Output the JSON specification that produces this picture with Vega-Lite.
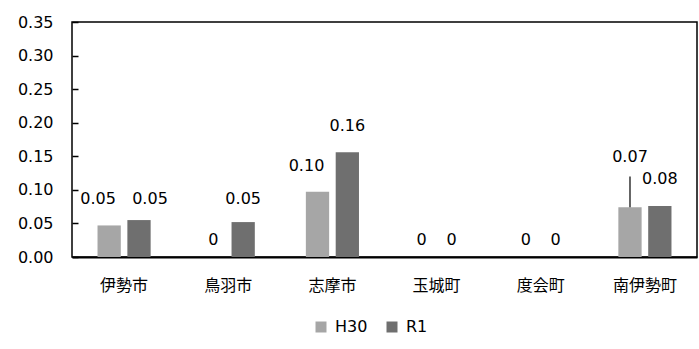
{
  "$schema": "https://vega.github.io/schema/vega-lite/v6.json",
  "width": 625,
  "height": 235,
  "autosize": {"type": "none"},
  "padding": {"left": 72, "top": 22, "right": 2, "bottom": 92},
  "background": "white",
  "config": {
    "font": "DejaVu Sans, Noto Sans CJK JP",
    "view": {"stroke": "#000", "strokeWidth": 1.5},
    "axis": {"labelColor": "#000", "labelFontSize": 16, "domainColor": "#000", "domainWidth": 2, "tickColor": "#000", "grid": false, "title": null},
    "axisY": {"format": ".2f", "labelOverlap": false, "ticks": true, "domain": false, "offset": -6, "tickSize": 6, "tickWidth": 1.5, "labelPadding": 19, "tickCount": 7, "zindex": 1}
  },
  "data": {
    "values": [
      {"muni": "伊勢市", "year": "H30", "value": 0.047, "shown": 0.05},
      {"muni": "伊勢市", "year": "R1", "value": 0.055, "shown": 0.05},
      {"muni": "鳥羽市", "year": "H30", "value": 0, "shown": 0},
      {"muni": "鳥羽市", "year": "R1", "value": 0.052, "shown": 0.05},
      {"muni": "志摩市", "year": "H30", "value": 0.097, "shown": 0.10},
      {"muni": "志摩市", "year": "R1", "value": 0.156, "shown": 0.16},
      {"muni": "玉城町", "year": "H30", "value": 0, "shown": 0},
      {"muni": "玉城町", "year": "R1", "value": 0, "shown": 0},
      {"muni": "度会町", "year": "H30", "value": 0, "shown": 0},
      {"muni": "度会町", "year": "R1", "value": 0, "shown": 0},
      {"muni": "南伊勢町", "year": "H30", "value": 0.074, "shown": 0.07},
      {"muni": "南伊勢町", "year": "R1", "value": 0.076, "shown": 0.08}
    ]
  },
  "encoding": {
    "x": {
      "field": "muni", "type": "nominal",
      "sort": ["伊勢市", "鳥羽市", "志摩市", "玉城町", "度会町", "南伊勢町"],
      "scale": {"paddingInner": 0.49, "paddingOuter": 0.245},
      "axis": {"ticks": false, "labelAngle": 0, "labelPadding": 20, "title": null}
    },
    "xOffset": {
      "field": "year", "type": "nominal",
      "sort": ["H30", "R1"],
      "scale": {"paddingInner": 0.22, "paddingOuter": 0}
    }
  },
  "layer": [
    {
      "mark": {"type": "bar"},
      "encoding": {
        "y": {
          "field": "value", "type": "quantitative",
          "scale": {"domain": [0, 0.35], "nice": false, "zero": true},
          "title": null
        },
        "color": {
          "field": "year", "type": "nominal",
          "scale": {"domain": ["H30", "R1"], "range": ["#a6a6a6", "#6f6f6f"]},
          "legend": {
            "orient": "none", "legendX": 241, "legendY": 297, "direction": "horizontal",
            "title": null, "symbolType": "square", "symbolSize": 121, "symbolStrokeWidth": 0,
            "labelFontSize": 16, "labelColor": "#000", "labelOffset": 6, "columnPadding": 16, "padding": 0
          }
        }
      }
    },
    {
      "transform": [{"filter": "datum.shown > 0 && (datum.muni == '鳥羽市' || (datum.year == 'R1' && (datum.muni == '志摩市' || datum.muni == '南伊勢町')))"}],
      "mark": {"type": "text", "fontSize": 16, "color": "#000", "baseline": "middle", "dy": -24},
      "encoding": {
        "y": {"field": "shown", "type": "quantitative", "title": null},
        "text": {"field": "shown", "type": "quantitative", "format": ".2f"}
      }
    },
    {
      "transform": [{"filter": "datum.year == 'H30' && (datum.muni == '伊勢市' || datum.muni == '志摩市')"}],
      "mark": {"type": "text", "fontSize": 16, "color": "#000", "baseline": "middle", "dy": -24, "dx": -11},
      "encoding": {
        "y": {"field": "shown", "type": "quantitative", "title": null},
        "text": {"field": "shown", "type": "quantitative", "format": ".2f"}
      }
    },
    {
      "transform": [{"filter": "datum.year == 'R1' && datum.muni == '伊勢市'"}],
      "mark": {"type": "text", "fontSize": 16, "color": "#000", "baseline": "middle", "dy": -24, "dx": 11},
      "encoding": {
        "y": {"field": "shown", "type": "quantitative", "title": null},
        "text": {"field": "shown", "type": "quantitative", "format": ".2f"}
      }
    },
    {
      "transform": [{"filter": "datum.year == 'H30' && datum.muni == '南伊勢町'"}],
      "mark": {"type": "text", "fontSize": 16, "color": "#000", "baseline": "middle", "dy": -53},
      "encoding": {
        "y": {"field": "shown", "type": "quantitative", "title": null},
        "text": {"field": "shown", "type": "quantitative", "format": ".2f"}
      }
    },
    {
      "transform": [{"filter": "datum.shown == 0"}],
      "mark": {"type": "text", "fontSize": 16, "color": "#000", "baseline": "middle", "dy": -17},
      "encoding": {
        "y": {"field": "shown", "type": "quantitative", "title": null},
        "text": {"field": "shown", "type": "quantitative", "format": ".0f"}
      }
    },
    {
      "transform": [{"filter": "datum.year == 'H30' && datum.muni == '南伊勢町'"}],
      "mark": {"type": "rule", "color": "#000", "strokeWidth": 1.2},
      "encoding": {
        "y": {"field": "value", "type": "quantitative", "title": null},
        "y2": {"datum": 0.12}
      }
    }
  ]
}
